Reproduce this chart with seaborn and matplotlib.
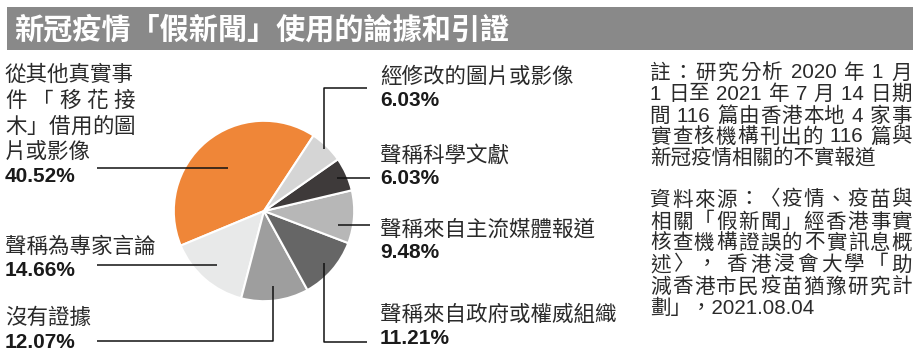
import re
import numpy as np
import matplotlib
matplotlib.use("Agg")
import matplotlib.pyplot as plt
import seaborn as sns

# data
categories = ["從其他真實事件「移花接木」借用的圖片或影像", "聲稱為專家言論", "沒有證據",
              "聲稱來自政府或權威組織", "聲稱來自主流媒體報道", "聲稱科學文獻", "經修改的圖片或影像"]
shares = [40.52, 14.66, 12.07, 11.21, 9.48, 6.03, 6.03]
colors = ["#EF8638", "#E8E9E9", "#9E9E9E", "#666666", "#B7B7B7", "#3E3A3A", "#D5D5D5"]

title = "新冠疫情「假新聞」使用的論據和引證"
first_label_lines = ["從其他真實事", "件「移花接", "木」借用的圖", "片或影像"]
note_lines = ["註：研究分析 2020 年 1 月", "1 日至 2021 年 7 月 14 日期",
              "間 116 篇由香港本地 4 家事", "實查核機構刊出的 116 篇與", "新冠疫情相關的不實報道"]
source_lines = ["資料來源：〈疫情、疫苗與", "相關「假新聞」經香港事實", "核查機構證誤的不實訊息概",
                "述〉， 香港浸會大學「助", "減香港市民疫苗猶豫研究計", "劃」，2021.08.04"]

sns.set_theme(style="white")
plt.rcParams["font.family"] = ["Noto Sans CJK TC", "DejaVu Sans"]

W, H = 919, 364
fig = plt.figure(figsize=(W / 100, H / 100), dpi=100)
fig.patch.set_facecolor("white")

# pie, centre/radius in pixels
cx, cy, R = 264, 211, 92
pax = fig.add_axes([(cx - R) / W, (H - cy - R) / H, 2 * R / W, 2 * R / H])
start = 56.7
wedges, _ = pax.pie(shares, colors=colors, startangle=start, counterclock=True,
                    radius=1, wedgeprops=dict(edgecolor="white", linewidth=1.5))
pax.set_xlim(-1.02, 1.02)
pax.set_ylim(-1.02, 1.02)
pax.set_aspect("equal")
pax.axis("off")

# overlay in pixel coordinates
ov = fig.add_axes([0, 0, 1, 1])
ov.set_xlim(0, W)
ov.set_ylim(H, 0)
ov.axis("off")
renderer = fig.canvas.get_renderer()

# title bar
ov.add_patch(plt.Rectangle((7, 7), 906, 43, color="#898989", lw=0))
ov.text(14, 29, title, color="white", fontsize=21, fontweight="bold", va="center", ha="left")

txt = "#2a2a2a"
mixed = ["Liberation Sans", "Noto Sans CJK TC", "DejaVu Sans"]


def justify(s, x0, x1, y, **kw):
    # spread tokens of one line so it fills x0..x1 (spaces stay with the token before)
    toks = re.findall(r"[0-9.]+ *|[^ ] *", s)
    arts = [ov.text(0, y, t, **kw) for t in toks]
    widths = [a.get_window_extent(renderer).width for a in arts]
    gap = (x1 - x0 - sum(widths)) / max(len(toks) - 1, 1)
    x = x0
    for a, w in zip(arts, widths):
        a.set_x(x)
        x += w + gap


def anchor(i, frac, dth=0.0):
    w = wedges[i]
    th = np.deg2rad((w.theta1 + w.theta2) / 2 + dth)
    r = R * 1.02 * frac
    return cx + r * np.cos(th), cy - r * np.sin(th)


def line(xs, ys):
    ov.plot(xs, ys, color="#111111", lw=1.1, solid_capstyle="butt")


name_kw = dict(fontsize=15.5, color=txt, va="center", ha="left")
pct_kw = dict(fontsize=15, color="#1a1a1a", va="center", ha="left", fontweight="bold",
              family=["Liberation Sans", "DejaVu Sans"])

# left side
for k, (s, y) in enumerate(zip(first_label_lines, [75, 101, 127, 152])):
    if k in (1, 2):
        justify(s, 5, 135, y, **name_kw)
    else:
        ov.text(5, y, s, **name_kw)
ov.text(5, 176, f"{shares[0]:.2f}%", **pct_kw)
ax_, ay_ = anchor(0, 0.6)
line([97, ax_], [ay_, ay_])

ov.text(5, 247, categories[1], **name_kw)
ov.text(5, 270, f"{shares[1]:.2f}%", **pct_kw)
ax_, ay_ = anchor(1, 0.76)
line([97, ax_], [ay_, ay_])

ov.text(5, 318, categories[2], **name_kw)
ov.text(5, 342, f"{shares[2]:.2f}%", **pct_kw)
ax_, ay_ = anchor(2, 0.8)
line([97, ax_, ax_], [341, 341, ay_])

# right side
rx = 380
ov.text(rx, 77, categories[6], **name_kw)
ov.text(rx, 100, f"{shares[6]:.2f}%", **pct_kw)
ax_, ay_ = anchor(6, 0.92)
line([367, ax_, ax_], [88, 88, ay_])

ov.text(rx, 156, categories[5], **name_kw)
ov.text(rx, 179, f"{shares[5]:.2f}%", **pct_kw)
ax_, ay_ = anchor(5, 0.85)
line([ax_, 370], [ay_, ay_])

ov.text(rx, 230, categories[4], **name_kw)
ov.text(rx, 253, f"{shares[4]:.2f}%", **pct_kw)
ax_, ay_ = anchor(4, 0.8, -7)
line([ax_, 370], [ay_, ay_])

ov.text(rx, 315, categories[3], **name_kw)
ov.text(rx, 338, f"{shares[3]:.2f}%", **pct_kw)
ax_, ay_ = anchor(3, 0.85)
line([ax_, ax_, 367], [ay_, 342, 342])

# notes
note_kw = dict(fontsize=14.8, color=txt, va="center", ha="left", family=mixed)
for k, (s, y) in enumerate(zip(note_lines, [73, 94, 116, 137, 158])):
    if k < len(note_lines) - 1:
        justify(s, 650, 912, y, **note_kw)
    else:
        ov.text(650, y, s, **note_kw)
for k, (s, y) in enumerate(zip(source_lines, [200, 222, 243, 265, 287, 308])):
    if k < len(source_lines) - 1:
        justify(s, 650, 912, y, **note_kw)
    else:
        ov.text(650, y, s, **note_kw)

fig.savefig("out.png", dpi=100)
